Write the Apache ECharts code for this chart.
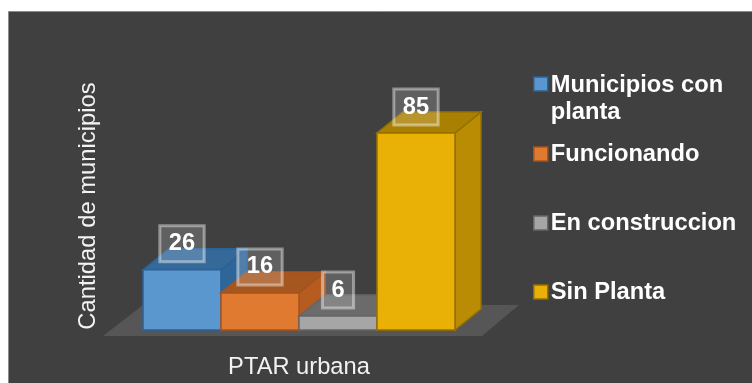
<!DOCTYPE html>
<html><head><meta charset="utf-8">
<style>html,body{margin:0;padding:0;background:#fff}#c{width:752px;height:383px}</style>
<script src="https://cdn.jsdelivr.net/npm/echarts@6/dist/echarts.min.js"></script>
</head><body><div id="c"></div>
<script>
var categories = ['PTAR urbana'];
var municipiosConPlanta = [26];
var funcionando = [16];
var enConstruccion = [6];
var sinPlanta = [85];
var seriesNames = ['Municipios con planta','Funcionando','En construccion','Sin Planta'];
var seriesValues = [municipiosConPlanta, funcionando, enConstruccion, sinPlanta];
var palette = [
 {front:'#5b97cf',top:'#35699a',side:'#2f6699',edge:'#2a6197'},
 {front:'#e07a31',top:'#a6561f',side:'#b65c20',edge:'#a8531b'},
 {front:'#a6a6a6',top:'#6b6b6b',side:'#6b6b6b',edge:'#666666'},
 {front:'#e9b005',top:'#a98002',side:'#ba8c04',edge:'#957000'}
];
var FS = 23.7, FF = '"Liberation Sans", Arial, sans-serif';
var DX = 26, DY = -21;
function renderItem(params, api){
  var i = params.seriesIndex, c = palette[i];
  var base = api.coord([api.value(0), 0]);
  var v = api.value(1);
  var top = api.coord([api.value(0), v]);
  var band = api.size([1,0])[0];
  var w = band/seriesValues.length;
  var x0 = base[0]-band/2+i*w, x1 = x0+w, yb = base[1], yt = top[1];
  var st = function(f){return {fill:f,stroke:c.edge,lineWidth:1.5};};
  return {type:'group',children:[
    {type:'polygon',shape:{points:[[x1,yb],[x1+DX,yb+DY],[x1+DX,yt+DY],[x1,yt]]},style:st(c.side)},
    {type:'polygon',shape:{points:[[x0,yt],[x0+DX,yt+DY],[x1+DX,yt+DY],[x1,yt]]},style:st(c.top)},
    {type:'rect',shape:{x:x0,y:yt,width:w,height:yb-yt},style:st(c.front)},
    {type:'text',x:x0+w/2,y:yt-26,style:{text:String(v),fill:'#fff',font:'bold '+FS+'px '+FF,
      align:'center',verticalAlign:'middle',backgroundColor:'rgba(255,255,255,0.17)',
      borderColor:'rgba(255,255,255,0.42)',borderWidth:1.5,padding:[7,9,5,9]}}
  ]};
}
var legendTops = [71.5,140.5,209.5,278.5];
var square = 'path://M0 0H14V14H0Z';
var chart = echarts.init(document.getElementById('c'),null,{renderer:'canvas'});
chart.setOption({
  animation:false,
  backgroundColor:'#fff',
  graphic:[
    {type:'rect',z:-2,shape:{x:8.5,y:11.5,width:760,height:390},style:{fill:'#404040',stroke:'#8c8c8c',lineWidth:1}},
    {type:'polygon',z:-1,shape:{points:[[103,336],[482,336],[519,305],[143,305]]},style:{fill:'#565656'}}
  ],
  grid:{left:143,top:82,width:312,height:248},
  xAxis:{type:'category',data:categories,axisLine:{show:false},axisTick:{show:false},
    axisLabel:{color:'#f2f2f2',fontSize:FS,fontFamily:FF,margin:25}},
  yAxis:{type:'value',min:0,max:107,name:'Cantidad de municipios',nameLocation:'middle',nameGap:43,
    nameTextStyle:{color:'#f2f2f2',fontSize:23.8,fontFamily:FF},
    axisLine:{show:false},axisTick:{show:false},axisLabel:{show:false},splitLine:{show:false}},
  legend:seriesNames.map(function(n,i){return {
    data:[n],orient:'vertical',left:533,top:legendTops[i],padding:0,itemGap:0,
    itemWidth:14,itemHeight:i===0?43:14,itemStyle:{borderWidth:1.5},
    icon:i===0?'path://M0 0H14V14H0Z M0 43L0 43Z':square,
    formatter:function(name){return name==='Municipios con planta'?'Municipios con\nplanta':name;},
    textStyle:{color:'#fff',fontSize:FS,fontWeight:'bold',fontFamily:FF,lineHeight:27,padding:[0,0,0,-2]}
  };}),
  series:seriesNames.map(function(n,i){return {
    type:'custom',name:n,renderItem:renderItem,coordinateSystem:'cartesian2d',encode:{x:0,y:1},
    itemStyle:{color:palette[i].front,borderColor:palette[i].edge},
    data:seriesValues[i].map(function(v,k){return [categories[k],v];})
  };})
});
</script></body></html>
